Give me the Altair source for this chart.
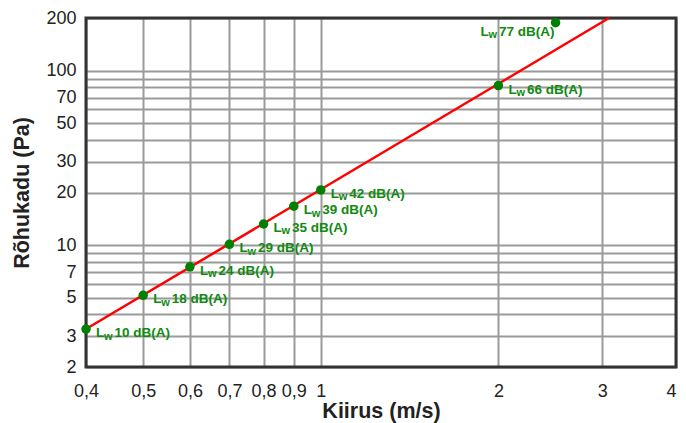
import altair as alt
import pandas as pd

# ---- data ----
speed = [0.4, 0.5, 0.6, 0.7, 0.8, 0.9, 1.0, 2.0, 2.5]
pressure = [3.3, 5.15, 7.5, 10.1, 13.2, 16.7, 20.7, 82, 188]
levels = ["10", "18", "24", "29", "35", "39", "42", "66", "77"]

line_speed = [0.4, 3.08]
line_pressure = [3.3, 200]

x_ticks = [0.4, 0.5, 0.6, 0.7, 0.8, 0.9, 1, 2, 3, 4]
y_grid = [2, 3, 4, 5, 6, 7, 8, 9, 10, 20, 30, 40, 50, 60, 70, 80, 90, 100, 200]
y_labels = [2, 3, 5, 7, 10, 20, 30, 50, 70, 100, 200]

W, H = 590, 349
FONT = "Liberation Sans"
GREEN_PT = "#008000"
GREEN_TX = "#108a10"
GRID = "#9a9a9a"

pts = pd.DataFrame({"v": speed, "p": pressure, "lev": levels,
                    "rest": [f"{l} dB(A)" for l in levels]})
ln = pd.DataFrame({"v": line_speed, "p": line_pressure})

xs = alt.Scale(type="log", domain=[0.4, 4], nice=False)
ys = alt.Scale(type="log", domain=[2, 200], nice=False)

ylab_arr = "[" + ",".join(str(v) for v in y_labels) + "]"

x_axis = alt.Axis(
    values=x_ticks, grid=True, gridColor=GRID, gridWidth=2, gridOpacity=1,
    ticks=False, domain=False,
    labelExpr="replace(toString(datum.value), '.', ',')",
    labelAlign={"condition": {"test": "datum.value >= 4", "value": "right"}, "value": "center"},
    labelFont=FONT, labelFontSize=18, labelColor="#222",
    labelPadding=15, labelOverlap=False, labelFlush=False, labelBound=False,
    title="Kiirus (m/s)", titleFont=FONT, titleFontSize=21.5,
    titleFontWeight="bold", titleColor="#222",
    titleX=W / 2, titleY=50, titleAlign="center", titleBaseline="alphabetic",
)
y_axis = alt.Axis(
    values=y_grid, grid=True, gridColor=GRID, gridWidth=2, gridOpacity=1,
    ticks=False, domain=False,
    labelExpr=f"indexof({ylab_arr}, datum.value) >= 0 ? toString(datum.value) : ''",
    labelFont=FONT, labelFontSize=18, labelColor="#222",
    labelPadding=10, labelOverlap=False, labelFlush=False, labelBound=False,
    title="Rõhukadu (Pa)", titleFont=FONT, titleFontSize=21.5,
    titleFontWeight="bold", titleColor="#222",
    titleX=-58, titleY=H / 2, titleAlign="center", titleBaseline="alphabetic",
    titleAngle=270,
)

base = alt.Chart(pts)

grid_layer = alt.Chart(ln).mark_point(opacity=0).encode(
    x=alt.X("v:Q", scale=xs, axis=x_axis),
    y=alt.Y("p:Q", scale=ys, axis=y_axis),
)

frame = alt.Chart(pd.DataFrame({"a": [0]})).mark_rect(
    filled=False, stroke="#333", strokeWidth=3
).encode(x=alt.value(0), x2=alt.value(W), y=alt.value(0), y2=alt.value(H))

line = alt.Chart(ln).mark_line(color="#ff0000", strokeWidth=2.5).encode(
    x=alt.X("v:Q", scale=xs, axis=x_axis), y=alt.Y("p:Q", scale=ys, axis=y_axis)
)

points = base.mark_circle(size=90, color=GREEN_PT, opacity=1).encode(
    x=alt.X("v:Q", scale=xs, axis=x_axis), y=alt.Y("p:Q", scale=ys, axis=y_axis)
)


def labels(src, dx0, dy0):
    enc = dict(x=alt.X("v:Q", scale=xs, axis=x_axis), y=alt.Y("p:Q", scale=ys, axis=y_axis))
    common = dict(font=FONT, fontWeight="bold", color=GREEN_TX,
                  align="left", baseline="alphabetic")
    l1 = src.mark_text(text="L", fontSize=13.5, dx=dx0, dy=dy0 + 4, **common).encode(**enc)
    l2 = src.mark_text(text="w", fontSize=11, dx=dx0 + 8, dy=dy0 + 6.5, **common).encode(**enc)
    l3 = src.mark_text(fontSize=13.5, dx=dx0 + 18.5, dy=dy0 + 4, **common).encode(
        text="rest:N", **enc)
    return [l1, l2, l3]


main_src = base.transform_filter("datum.v < 2.4")
top_src = base.transform_filter("datum.v >= 2.4")

layers = [grid_layer, frame, line, points] + labels(main_src, 10, 4) + labels(top_src, -75, 9)

chart = alt.layer(*layers).properties(
    width=W, height=H,
    autosize=alt.AutoSizeParams(type="none"),
    padding={"left": 78, "top": 10, "right": 2, "bottom": 56},
    background="white",
).configure_view(stroke=None).configure_axis(
    grid=True, gridColor=GRID, gridWidth=2, gridOpacity=1
)

chart.save("out.html", embed_options={"renderer": "svg", "actions": False})
